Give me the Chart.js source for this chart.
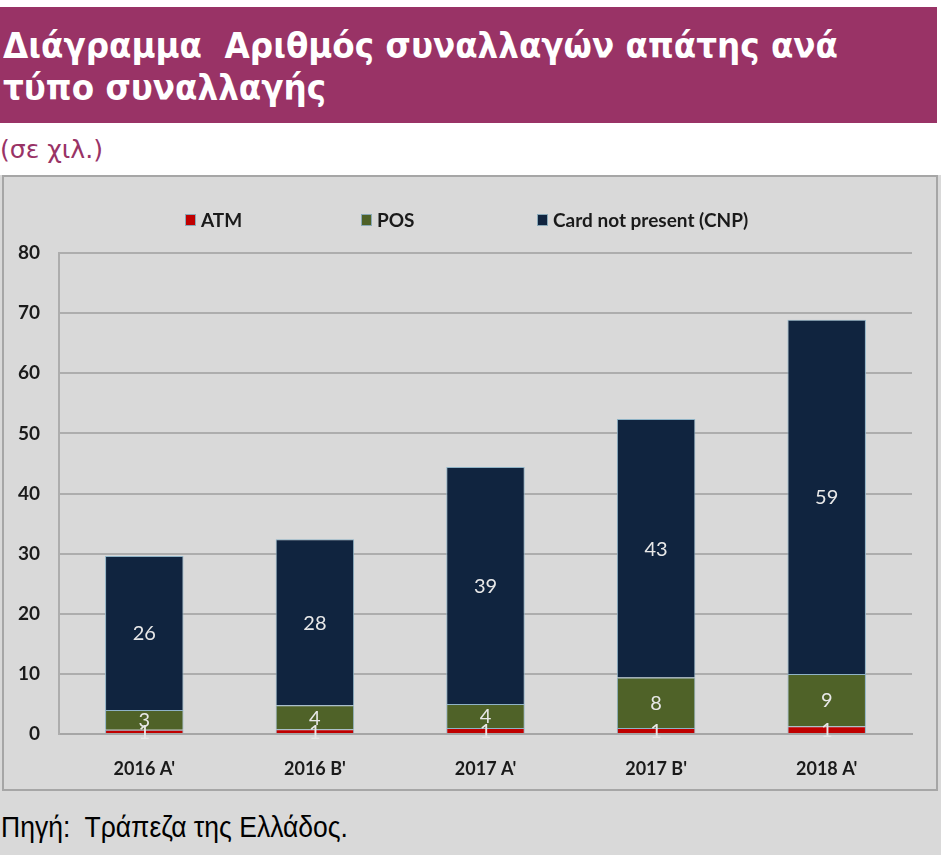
<!DOCTYPE html>
<html>
<head>
<meta charset="utf-8">
<script src="https://cdn.jsdelivr.net/npm/chart.js@4"></script>
<style>
  html, body { margin: 0; padding: 0; background: #fff; }
  body { width: 941px; height: 855px; position: relative; overflow: hidden; }
  #title { position: absolute; left: 0; top: 7px; width: 937px; height: 116px; background: #993366; }
  .tl { position: absolute; left: 3px; color: #fff; font: bold 35px "DejaVu Sans Condensed", "DejaVu Sans", sans-serif;
        line-height: 34px; white-space: nowrap; transform-origin: 0 0; }
  #sub { position: absolute; left: 0; top: 137px; color: #993366; font: 24px "DejaVu Sans Condensed", "DejaVu Sans", sans-serif;
         line-height: 26px; white-space: nowrap; transform-origin: 0 0; }
  #lower { position: absolute; left: 0; top: 175px; width: 941px; height: 680px; background: #D9D9D9; }
  #box { position: absolute; left: 2px; top: 0; width: 932px; height: 612px; border: 2px solid #A6A6A6; }
  #box canvas { position: absolute; left: 0; top: 0; }
  #legend { position: absolute; left: 181px; top: 31px; display: flex; font: bold 19px Lato, sans-serif; color: #1a1a1a; }
  .li { display: flex; align-items: center; width: 176px; white-space: nowrap; flex-shrink: 0; }
  .li:last-child { width: auto; }
  .li span.sw { flex-shrink: 0; width: 11px; height: 12px; margin-right: 5px; box-sizing: border-box; border: 1px solid #8aa9b8; }
  #src { position: absolute; left: 1px; top: 636px; font: 29px "Liberation Sans", Arial, sans-serif; color: #000;
         line-height: 32px; white-space: nowrap; transform-origin: 0 0; }
</style>
</head>
<body>
<div id="title">
  <div class="tl" data-fit="835" style="top:22px">Διάγραμμα&nbsp; Αριθμός συναλλαγών απάτης ανά</div>
  <div class="tl" data-fit="323" style="top:64px">τύπο συναλλαγής</div>
</div>
<div id="sub" data-fit="103">(σε χιλ.)</div>
<div id="lower">
  <div id="box">
    <canvas id="chart" width="932" height="612"></canvas>
    <div id="legend"></div>
  </div>
  <div id="src" data-fit="347">Πηγή:&nbsp; Τράπεζα της Ελλάδος.</div>
</div>
<script>
const periods = ["2016 A'", "2016 B'", "2017 A'", "2017 B'", "2018 A'"]
const atm = [0.7, 0.8, 1.0, 1.0, 1.3]
const pos = [3.3, 4.0, 4.0, 8.4, 8.7]
const cnp = [25.6, 27.6, 39.4, 43.0, 58.9]
const yTicks = [0, 10, 20, 30, 40, 50, 60, 70, 80]

const seriesNames = ['ATM', 'POS', 'Card not present (CNP)']
const seriesColors = ['#C00000', '#4F6228', '#10243F']

// squeeze text to the widths seen in the picture
document.querySelectorAll('[data-fit]').forEach(el => {
  el.style.display = 'inline-block'
  const w = el.getBoundingClientRect().width
  el.style.transform = 'scaleX(' + (parseFloat(el.dataset.fit) / w) + ')'
})

// html legend
const legend = document.getElementById('legend')
seriesNames.forEach((name, i) => {
  const item = document.createElement('div')
  item.className = 'li'
  item.innerHTML = '<span class="sw" style="background:' + seriesColors[i] + '"></span>' + name
  legend.appendChild(item)
})

// value labels in the middle of every segment
const segmentLabels = {
  id: 'segmentLabels',
  afterDatasetsDraw(chart) {
    const ctx = chart.ctx
    ctx.save()
    ctx.font = '20px Lato'
    ctx.fillStyle = '#E8E8E8'
    ctx.textAlign = 'center'
    ctx.textBaseline = 'middle'
    chart.data.datasets.forEach((ds, i) => {
      chart.getDatasetMeta(i).data.forEach((bar, j) => {
        const y = (bar.y + bar.base) / 2
        ctx.fillText(Math.round(ds.data[j]), bar.x, y + 1)
      })
    })
    ctx.restore()
  }
}

Chart.defaults.font.family = 'Lato'
Chart.defaults.color = '#1a1a1a'

new Chart(document.getElementById('chart'), {
  type: 'bar',
  data: {
    labels: periods,
    datasets: [atm, pos, cnp].map((d, i) => ({
      label: seriesNames[i],
      data: d,
      backgroundColor: seriesColors[i],
      borderColor: '#8fb3c6',
      borderWidth: 1,
      categoryPercentage: 1,
      barPercentage: 0.46
    }))
  },
  options: {
    responsive: false,
    animation: false,
    layout: { padding: { top: 76, right: 24, left: 0, bottom: 0 } },
    plugins: { legend: { display: false }, tooltip: { enabled: false } },
    scales: {
      x: {
        stacked: true,
        grid: { display: false },
        border: { display: true, color: '#A6A6A6', width: 2 },
        ticks: { font: { size: 18, weight: 'bold' }, padding: 16, color: '#1a1a1a' },
        afterFit(scale) { scale.height = 55 }
      },
      y: {
        stacked: true,
        min: 0,
        max: 80,
        afterBuildTicks(scale) { scale.ticks = yTicks.map(v => ({ value: v })) },
        grid: { color: '#ADADAD', lineWidth: 2, drawTicks: false },
        border: { display: true, color: '#ADADAD', width: 2 },
        ticks: { font: { size: 19, weight: 'bold' }, padding: 19, color: '#1a1a1a' },
        afterFit(scale) { scale.width = 55 }
      }
    }
  },
  plugins: [segmentLabels]
})
</script>
</body>
</html>
